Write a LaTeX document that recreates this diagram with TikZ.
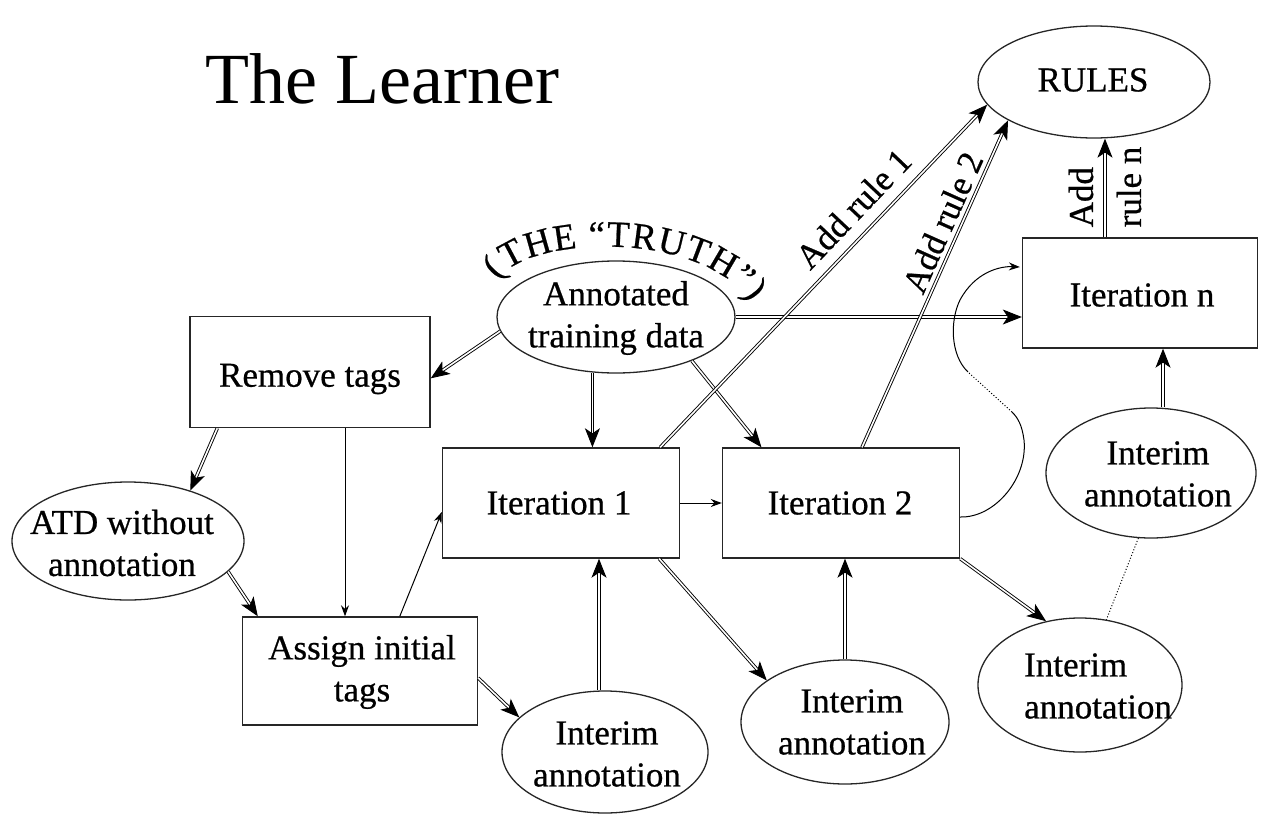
\documentclass[tikz,border=0pt]{standalone}
\usepackage{fontspec}
\setmainfont{Liberation Serif}
\newfontfamily\lblfont{Liberation Serif}[FakeBold=0.6]
\usetikzlibrary{shapes.geometric,arrows.meta,calc,decorations.text}
\begin{document}
\begin{tikzpicture}[x=1pt,y=1pt,
  every node/.style={font=\lblfont\fontsize{35}{42}\selectfont},
  boxn/.style={draw=black!85, line width=1.4pt, align=center, inner sep=0},
  elln/.style={ellipse, draw=black!85, line width=1.3pt, inner sep=0},
  lbl/.style={align=center, inner sep=0},
  dbl/.style={double, double distance=1.6pt, line width=0.9pt, -{Stealth[length=19pt,width=15pt,inset=5pt]}},
  sgl/.style={line width=1pt, -{Stealth[length=11pt,width=8pt]}},
  dots/.style={line width=1pt, dotted}]
\useasboundingbox (0,0) rectangle (1272,-814);

\node[anchor=base west, inner sep=0, font=\fontsize{72}{80}\selectfont] (title) at (205,-103) {The Learner};
\node[elln, minimum width=232, minimum height=112] (rules) at (1094,-82) {};
\node[lbl] (rulest) at (1093,-80) {RULES};
\node[elln, minimum width=238, minimum height=112] (ann) at (616,-317) {};
\node[lbl] (annt) at (616,-318) {Annotated\\training data};
\node[boxn, minimum width=240, minimum height=111] (rem) at (310,-372) {};
\node[lbl] (remt) at (310,-379) {Remove tags};
\node[elln, minimum width=232, minimum height=118] (atd) at (128,-541) {};
\node[lbl] (atdt) at (122,-543) {ATD without\\annotation};
\node[boxn, minimum width=235, minimum height=108] (assign) at (360,-671) {};
\node[lbl] (assignt) at (362,-672) {Assign initial\\tags};
\node[boxn, minimum width=237, minimum height=110] (it1) at (561,-503) {};
\node[lbl] (it1t) at (559,-503) {Iteration 1};
\node[boxn, minimum width=237, minimum height=110] (it2) at (841,-503) {};
\node[lbl] (it2t) at (840,-503) {Iteration 2};
\node[boxn, minimum width=235, minimum height=110] (itn) at (1140,-293) {};
\node[lbl] (itnt) at (1142,-295) {Iteration n};
\node[elln, minimum width=206, minimum height=122] (int1) at (605,-752) {};
\node[lbl] (int1t) at (607,-754) {Interim\\annotation};
\node[elln, minimum width=208, minimum height=124] (int2) at (845,-722) {};
\node[lbl] (int2t) at (852,-722) {Interim\\annotation};
\node[elln, minimum width=204, minimum height=134] (int3) at (1080,-685) {};
\node[lbl, align=left, anchor=west] (int3t) at (1024,-686) {Interim\\annotation};
\node[elln, minimum width=210, minimum height=130] (int4) at (1151,-473) {};
\node[lbl] (int4t) at (1158,-474) {Interim\\annotation};

\path[decorate, decoration={text along path, text={|\lblfont\fontsize{37}{40}\selectfont|(THE “TRUTH”)}, text align={fit to path}}]
  (498,-280) .. controls (525,-236) and (700,-228) .. (750,-302);

\draw[dbl] (ann.187) -- (rem.-3);
\draw[dbl] (ann.east) -- (ann.east -| itn.west);
\draw[dbl] (ann.247) -- (ann.247 |- it1.north);
\draw[dbl] (ann.-30) -- (it2.145);
\coordinate (r5) at ($(rem.south west)+(28,0)$);
\draw[dbl] (r5) -- (atd.39);
\coordinate (r6) at ($(rem.south)+(35,0)$);
\draw[sgl] (r6) -- (r6 |- assign.north);
\draw[dbl] (atd.-17) -- ($(assign.north west)+(16,0)$);
\draw[sgl] ($(assign.north west)+(158,0)$) -- ($(it1.west)+(0,-9)$);
\draw[dbl] ($(assign.east)+(0,-7)$) -- (int1.158);
\coordinate (c10) at ($(int1.north)+(-6,0)$);
\draw[dbl] (c10) -- (c10 |- it1.south);
\draw[sgl] (it1.east) -- (it2.west);
\draw[dbl] ($(it1.south east)+(-21,0)$) -- (int2.152);
\draw[dbl] (int2.north) -- (int2.north |- it2.south);
\draw[dbl] (it2.south east) -- (int3.118);
\coordinate (c15) at ($(itn.south)+(23,0)$);
\draw[dbl] (c15 |- int4.north) -- (c15);
\draw[dbl] ($(it1.north east)+(-20,0)$) -- node[sloped, above=9pt, pos=0.646] (lbl1) {Add rule 1} (rules.192);
\draw[dbl] ($(it2.north)+(21,0)$) -- node[sloped, above=2pt, pos=0.665] (lbl2) {Add rule 2} (rules.204);
\coordinate (c18) at ($(itn.north)+(-35,0)$);
\draw[dbl] (c18) -- (c18 |- rules.south);
\node[rotate=90, align=left, font=\lblfont\fontsize{35}{48}\selectfont] (lbln) at (1105,-187) {Add\\rule n};

\coordinate (k0) at ($(it2.east)+(0,-14)$);
\coordinate (k1) at (1012,-412);
\coordinate (k2) at (968,-372);
\coordinate (k3) at ($(itn.west)+(-2,26)$);
\draw[line width=1pt] (k0) .. controls (995,-518) and (1028,-478) .. (1024,-440) .. controls (1022,-425) and (1018,-418) .. (k1);
\draw[dots] (k1) -- (k2);
\draw[sgl] (k2) .. controls (950,-355) and (950,-320) .. (960,-300) .. controls (975,-272) and (1000,-266) .. (k3);
\draw[dots] (int4.259) -- (int3.68);
\end{tikzpicture}
\end{document}
